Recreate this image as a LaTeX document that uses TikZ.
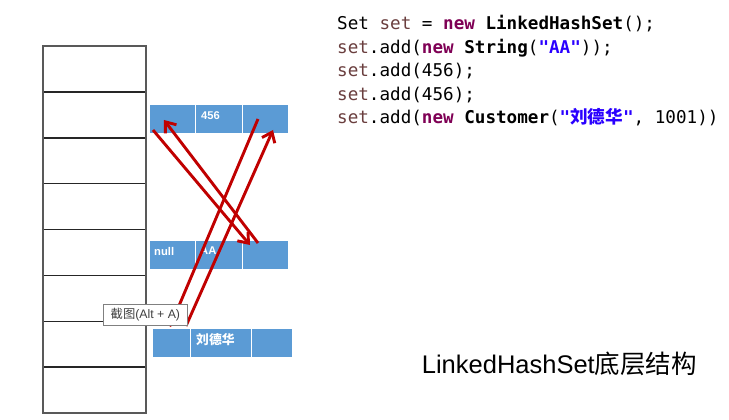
\documentclass[tikz,border=0pt]{standalone}
\usepackage{fontspec}
\setmainfont{Liberation Sans}
\newfontfamily\cjk{Noto Sans CJK SC}
\newfontfamily\codefont{DejaVu Sans Mono}
\usetikzlibrary{arrows.meta}
\definecolor{boxblue}{HTML}{5B9BD5}
\definecolor{arrowred}{HTML}{C00000}
\definecolor{kwcol}{HTML}{7F0055}
\definecolor{strcol}{HTML}{2A00FF}
\definecolor{varcol}{HTML}{6A3E3E}
\definecolor{framegray}{HTML}{595959}
\newcommand\cKw[1]{\textcolor{kwcol}{\bfseries #1}}
\newcommand\cStr[1]{\textcolor{strcol}{\bfseries #1}}
\newcommand\cVar[1]{\textcolor{varcol}{#1}}
\tikzset{
  rowbox/.style={draw=black!85, line width=1.2pt, minimum width=102pt, minimum height=45.8pt, anchor=north west, inner sep=0pt},
  frame/.style={draw=framegray, line width=2pt},
  cell/.style={fill=boxblue, draw=white, line width=1pt, minimum height=28.5pt, anchor=north west, inner sep=0pt},
  celltext/.style={text=white, font=\fontsize{11.2}{13}\selectfont\bfseries, anchor=west, inner sep=0pt},
  codeline/.style={anchor=base west, inner sep=0pt, font=\codefont\fontsize{17.6}{20}\selectfont},
  link/.style={draw=arrowred, line width=2.9pt, -{Straight Barb[length=9pt,width=14pt]}},
  tip/.style={fill=white, draw=black!50, line width=0.8pt, minimum width=84pt, minimum height=21pt, anchor=north west, inner sep=0pt, text=black!75, font=\fontsize{12.3}{14}\selectfont}
}
\begin{document}
\begin{tikzpicture}[x=1pt,y=-1pt]
\useasboundingbox[fill=white] (0,0) rectangle (729,420);
% left table
\foreach \i in {1,...,8}{
  \node[rowbox] (r\i) at (43,{45.7+(\i-1)*45.8}) {};
}
\draw[frame] (r1.north west) rectangle (r8.south east);
% top box
\node[cell, minimum width=46pt]   (t1) at (149,104) {};
\node[cell, minimum width=47pt]   (t2) at (195,104) {};
\node[cell, minimum width=46pt]   (t3) at (242,104) {};
\node[celltext] (t2txt) at (201,115.5) {456};
% middle box
\node[cell, minimum width=46pt]   (m1) at (149,240) {};
\node[cell, minimum width=47pt]   (m2) at (195,240) {};
\node[cell, minimum width=46pt]   (m3) at (242,240) {};
\node[celltext] (m1txt) at (154,251) {null};
\node[celltext] (m2txt) at (200,251) {AA};
% bottom box
\node[cell, minimum width=38pt]   (b1) at (152,328) {};
\node[cell, minimum width=61pt]   (b2) at (190,328) {};
\node[cell, minimum width=41pt]   (b3) at (251,328) {};
\node[celltext, font=\cjk\fontsize{12.8}{14}\selectfont\bfseries] (b2txt) at (196,340) {刘德华};
% link end points
\coordinate (aS) at (153,130);
\coordinate (aE) at (250,245);
\coordinate (bS) at (258,243);
\coordinate (bE) at (164,120);
\coordinate (cS) at (258,119);
\coordinate (cE) at (170,327);
\coordinate (dS) at (186,326);
\coordinate (dE) at (273,130);
\draw[link] (aS) -- (aE);
\draw[link] (bS) -- (bE);
\draw[link] (cS) -- (cE);
\draw[link] (dS) -- (dE);
% tooltip
\node[tip] (tooltip) at (103,304) {{\cjk 截图}(Alt + A)};
% code
\node[codeline] (code1) at (337,30) {Set \cVar{set} = \cKw{new} \textbf{LinkedHashSet}();};
\node[codeline] (code2) at (337,53.5) {\cVar{set}.add(\cKw{new} \textbf{String}(\cStr{"AA"}));};
\node[codeline] (code3) at (337,77) {\cVar{set}.add(456);};
\node[codeline] (code4) at (337,100.5) {\cVar{set}.add(456);};
\node[codeline] (code5) at (337,124) {\cVar{set}.add(\cKw{new} \textbf{Customer}(\cStr{"{\cjk 刘德华}"}, 1001))};
% title
\node[anchor=base west, inner sep=0pt, font=\fontsize{25.5}{30}\selectfont] (title) at (421.7,373.3) {LinkedHashSet{\cjk 底层结构}};
\end{tikzpicture}
\end{document}
